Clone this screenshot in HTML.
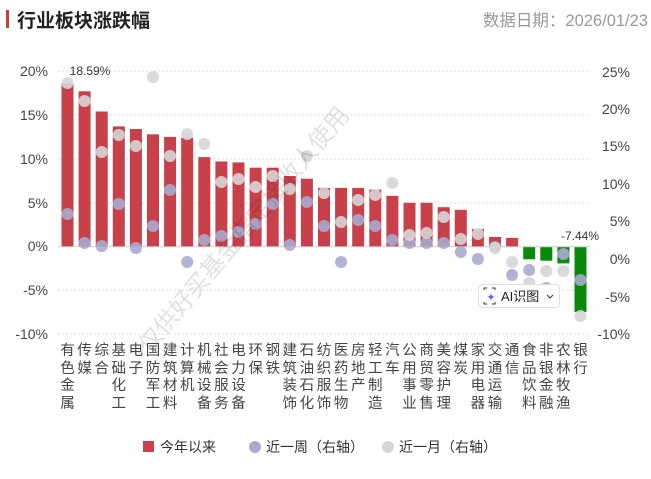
<!DOCTYPE html>
<html><head><meta charset="utf-8"><style>
html,body{margin:0;padding:0;background:#fff;}
body{position:relative;width:651px;height:479px;overflow:hidden;}
svg{display:block;font-family:"Liberation Sans","Noto Sans CJK SC",sans-serif;}
.xl{position:absolute;top:343px;width:20px;text-align:center;font-size:14.5px;line-height:17.5px;color:#444;font-family:"Liberation Sans","Noto Sans CJK SC",sans-serif;}
</style></head><body>
<svg width="651" height="479" viewBox="0 0 651 479" xmlns="http://www.w3.org/2000/svg">
<rect width="651" height="479" fill="#fff"/>
<rect x="6" y="10" width="3" height="18" fill="#d0393e"/>
<text x="17" y="27" font-size="19" font-weight="bold" fill="#222">行业板块涨跌幅</text>
<text x="648" y="26" font-size="16.5" fill="#999" text-anchor="end">数据日期：2026/01/23</text>
<g stroke="#ddd" stroke-width="1" stroke-dasharray="2,2">
<line x1="58" x2="590" y1="71" y2="71"/><line x1="58" x2="590" y1="115" y2="115"/>
<line x1="58" x2="590" y1="159" y2="159"/><line x1="58" x2="590" y1="203" y2="203"/>
<line x1="58" x2="590" y1="290" y2="290"/><line x1="58" x2="590" y1="334" y2="334"/>
</g>
<g font-size="14" fill="#444" text-anchor="end">
<text x="48" y="76">20%</text><text x="48" y="120">15%</text><text x="48" y="164">10%</text>
<text x="48" y="208">5%</text><text x="48" y="251">0%</text><text x="48" y="295">-5%</text><text x="48" y="339">-10%</text>
</g>
<g font-size="14" fill="#444" text-anchor="end">
<text x="630" y="77">25%</text><text x="630" y="114">20%</text><text x="630" y="151">15%</text>
<text x="630" y="189">10%</text><text x="630" y="226">5%</text><text x="630" y="264">0%</text>
<text x="630" y="302">-5%</text><text x="630" y="339">-10%</text>
</g>
<g fill="#c8414a">
<rect x="61.5" y="83.5" width="12" height="163.2"/>
<rect x="78.6" y="91.3" width="12" height="155.4"/>
<rect x="95.7" y="111.5" width="12" height="135.2"/>
<rect x="112.8" y="126.4" width="12" height="120.3"/>
<rect x="129.9" y="129" width="12" height="117.7"/>
<rect x="147" y="134.3" width="12" height="112.4"/>
<rect x="164.1" y="136.9" width="12" height="109.8"/>
<rect x="181.2" y="137.8" width="12" height="108.9"/>
<rect x="198.3" y="157.1" width="12" height="89.6"/>
<rect x="215.4" y="161.5" width="12" height="85.2"/>
<rect x="232.5" y="162.4" width="12" height="84.3"/>
<rect x="249.6" y="167.7" width="12" height="79"/>
<rect x="266.7" y="167.7" width="12" height="79"/>
<rect x="283.8" y="176" width="12" height="70.7"/>
<rect x="300.9" y="178.7" width="12" height="68"/>
<rect x="318" y="187.9" width="12" height="58.8"/>
<rect x="335.1" y="187.9" width="12" height="58.8"/>
<rect x="352.2" y="187.9" width="12" height="58.8"/>
<rect x="369.3" y="189.6" width="12" height="57.1"/>
<rect x="386.4" y="195.8" width="12" height="50.9"/>
<rect x="403.5" y="202.8" width="12" height="43.9"/>
<rect x="420.6" y="202.8" width="12" height="43.9"/>
<rect x="437.7" y="207.2" width="12" height="39.5"/>
<rect x="454.8" y="209.8" width="12" height="36.9"/>
<rect x="471.9" y="229.1" width="12" height="17.6"/>
<rect x="489" y="237" width="12" height="9.7"/>
<rect x="506.1" y="237.9" width="12" height="8.8"/>
</g>
<g fill="#0a8a0a">
<rect x="523.2" y="246.7" width="12" height="12.6"/>
<rect x="540.3" y="246.7" width="12" height="14"/>
<rect x="557.4" y="246.7" width="12" height="16.7"/>
<rect x="574.5" y="246.7" width="12" height="65.3"/>
</g>
<line x1="58" x2="590" y1="246.7" y2="246.7" stroke="#ccc"/>
<g fill="#aaaacf" fill-opacity="0.9">
<circle cx="67.5" cy="214" r="6"/><circle cx="84.6" cy="243" r="6"/><circle cx="101.7" cy="246" r="6"/>
<circle cx="118.8" cy="204" r="6"/><circle cx="135.9" cy="248" r="6"/><circle cx="153" cy="226" r="6"/>
<circle cx="170.1" cy="190" r="6"/><circle cx="187.2" cy="262" r="6"/><circle cx="204.3" cy="240" r="6"/>
<circle cx="221.4" cy="236" r="6"/><circle cx="238.5" cy="232" r="6"/><circle cx="255.6" cy="224" r="6"/>
<circle cx="272.7" cy="204" r="6"/><circle cx="289.8" cy="245" r="6"/><circle cx="306.9" cy="202" r="6"/>
<circle cx="324" cy="226" r="6"/><circle cx="341.1" cy="262" r="6"/><circle cx="358.2" cy="220" r="6"/>
<circle cx="375.3" cy="226" r="6"/><circle cx="392.4" cy="240" r="6"/><circle cx="409.5" cy="243" r="6"/>
<circle cx="426.6" cy="243" r="6"/><circle cx="443.7" cy="243" r="6"/><circle cx="460.8" cy="252" r="6"/>
<circle cx="477.9" cy="259" r="6"/><circle cx="495" cy="247" r="6"/><circle cx="512.1" cy="275" r="6"/>
<circle cx="529.2" cy="270" r="6"/><circle cx="546.3" cy="288" r="6"/><circle cx="563.4" cy="254" r="6"/>
<circle cx="580.5" cy="280" r="6"/>
</g>
<g fill="#d6d6d6" fill-opacity="0.9">
<circle cx="67.5" cy="83" r="6"/><circle cx="84.6" cy="101" r="6"/><circle cx="101.7" cy="152" r="6"/>
<circle cx="118.8" cy="135" r="6"/><circle cx="135.9" cy="146" r="6"/><circle cx="153" cy="77" r="6"/>
<circle cx="170.1" cy="156" r="6"/><circle cx="187.2" cy="134" r="6"/><circle cx="204.3" cy="144" r="6"/>
<circle cx="221.4" cy="182" r="6"/><circle cx="238.5" cy="179" r="6"/><circle cx="255.6" cy="187" r="6"/>
<circle cx="272.7" cy="176" r="6"/><circle cx="289.8" cy="189" r="6"/><circle cx="306.9" cy="156" r="6"/>
<circle cx="324" cy="193" r="6"/><circle cx="341.1" cy="222" r="6"/><circle cx="358.2" cy="200" r="6"/>
<circle cx="375.3" cy="195" r="6"/><circle cx="392.4" cy="183" r="6"/><circle cx="409.5" cy="235" r="6"/>
<circle cx="426.6" cy="233" r="6"/><circle cx="443.7" cy="217" r="6"/><circle cx="460.8" cy="239" r="6"/>
<circle cx="477.9" cy="234" r="6"/><circle cx="495" cy="248" r="6"/><circle cx="512.1" cy="262" r="6"/>
<circle cx="529.2" cy="283" r="6"/><circle cx="546.3" cy="271" r="6"/><circle cx="563.4" cy="271" r="6"/>
<circle cx="580.5" cy="316" r="6"/>
</g>
<text x="90" y="75" font-size="12" fill="#333" text-anchor="middle">18.59%</text>
<text x="580" y="240" font-size="12" fill="#333" text-anchor="middle">-7.44%</text>
<text transform="translate(250,235) rotate(-50)" font-size="24" fill="#000" fill-opacity="0.12" text-anchor="middle">仅供好买基金指定接收人使用</text>
<rect x="478.5" y="284.5" width="81" height="23" rx="4" fill="#fff" stroke="#ddd"/>
<text x="491" y="301" font-size="11" fill="#7b4dff" text-anchor="middle">✦</text>
<path d="M484 290v-2h3M495 290v-2h-3M484 302v2h3M495 302v2h-3" stroke="#333" fill="none"/>
<text x="501" y="301" font-size="13" fill="#222">AI识图</text>
<path d="M547 295l3 3 3-3" stroke="#333" fill="none"/>
<rect x="143" y="441" width="11" height="11" fill="#c8414a"/>
<text x="160" y="452" font-size="14" fill="#333">今年以来</text>
<circle cx="255" cy="447" r="6" fill="#aaaacf"/>
<text x="266" y="452" font-size="14" fill="#333">近一周（右轴）</text>
<circle cx="388" cy="447" r="6" fill="#d6d6d6"/>
<text x="399" y="452" font-size="14" fill="#333">近一月（右轴）</text>
</svg>
<div class="xl" style="left:57.5px">有<br>色<br>金<br>属</div>
<div class="xl" style="left:74.6px">传<br>媒</div>
<div class="xl" style="left:91.7px">综<br>合</div>
<div class="xl" style="left:108.8px">基<br>础<br>化<br>工</div>
<div class="xl" style="left:125.9px">电<br>子</div>
<div class="xl" style="left:143px">国<br>防<br>军<br>工</div>
<div class="xl" style="left:160.1px">建<br>筑<br>材<br>料</div>
<div class="xl" style="left:177.2px">计<br>算<br>机</div>
<div class="xl" style="left:194.3px">机<br>械<br>设<br>备</div>
<div class="xl" style="left:211.4px">社<br>会<br>服<br>务</div>
<div class="xl" style="left:228.5px">电<br>力<br>设<br>备</div>
<div class="xl" style="left:245.6px">环<br>保</div>
<div class="xl" style="left:262.7px">钢<br>铁</div>
<div class="xl" style="left:279.8px">建<br>筑<br>装<br>饰</div>
<div class="xl" style="left:296.9px">石<br>油<br>石<br>化</div>
<div class="xl" style="left:314px">纺<br>织<br>服<br>饰</div>
<div class="xl" style="left:331.1px">医<br>药<br>生<br>物</div>
<div class="xl" style="left:348.2px">房<br>地<br>产</div>
<div class="xl" style="left:365.3px">轻<br>工<br>制<br>造</div>
<div class="xl" style="left:382.4px">汽<br>车</div>
<div class="xl" style="left:399.5px">公<br>用<br>事<br>业</div>
<div class="xl" style="left:416.6px">商<br>贸<br>零<br>售</div>
<div class="xl" style="left:433.7px">美<br>容<br>护<br>理</div>
<div class="xl" style="left:450.8px">煤<br>炭</div>
<div class="xl" style="left:467.9px">家<br>用<br>电<br>器</div>
<div class="xl" style="left:485px">交<br>通<br>运<br>输</div>
<div class="xl" style="left:502.1px">通<br>信</div>
<div class="xl" style="left:519.2px">食<br>品<br>饮<br>料</div>
<div class="xl" style="left:536.3px">非<br>银<br>金<br>融</div>
<div class="xl" style="left:553.4px">农<br>林<br>牧<br>渔</div>
<div class="xl" style="left:570.5px">银<br>行</div>
</body></html>
